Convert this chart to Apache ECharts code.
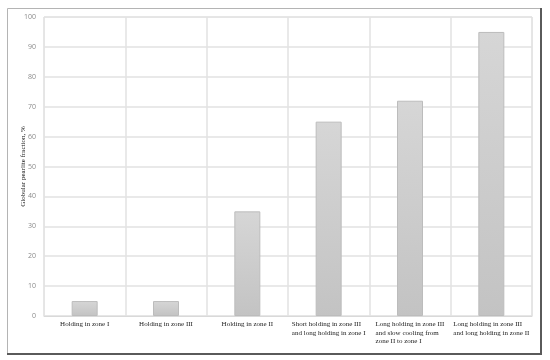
<!DOCTYPE html>
<html>
<head>
<meta charset="utf-8">
<script src="https://cdn.jsdelivr.net/npm/echarts@6/dist/echarts.min.js"></script>
<style>html,body{margin:0;padding:0;background:#fff}#c{width:550px;height:360px}</style>
</head>
<body>
<div id="c"></div>
<script>
var categories = [
  ['Holding in zone I'],
  ['Holding in zone III'],
  ['Holding in zone II'],
  ['Short holding in zone III', 'and long holding in zone I'],
  ['Long holding in zone III', 'and slow cooling from', 'zone II to zone I'],
  ['Long holding in zone III', 'and long holding in zone II']
];
var values = [5, 5, 35, 65, 72, 95];
var yTicks = [0, 10, 20, 30, 40, 50, 60, 70, 80, 90, 100];
var yTitle = 'Globular pearlite fraction, %';

var chart = echarts.init(document.getElementById('c'), null, {renderer: 'canvas'});
var serif = '"Liberation Serif", "Times New Roman", serif';
chart.setOption({
  animation: false,
  backgroundColor: '#ffffff',
  graphic: [
    {type: 'rect', shape: {x: 7.5, y: 8.5, width: 533, height: 345}, style: {fill: 'none', stroke: '#b4b4b4', lineWidth: 1}, z: 100},
    {type: 'line', shape: {x1: 541, y1: 8, x2: 541, y2: 354}, style: {stroke: '#5a5a5a', lineWidth: 2}, z: 101},
    {type: 'line', shape: {x1: 7, y1: 354, x2: 542, y2: 354}, style: {stroke: '#5a5a5a', lineWidth: 2}, z: 101}
  ],
  grid: {left: 44, top: 17, right: 18, bottom: 44, show: true, borderColor: '#e2e2e2', borderWidth: 1},
  xAxis: {
    type: 'category',
    data: categories.map(function (c) { return c.join('\n'); }),
    boundaryGap: true,
    axisLine: {show: true, lineStyle: {color: '#d9d9d9', width: 1}},
    axisTick: {show: false},
    splitLine: {show: true, lineStyle: {color: '#e2e2e2', width: 1.5}},
    axisLabel: {
      interval: 0,
      margin: 4,
      color: '#222',
      fontFamily: serif,
      fontSize: 7,
      lineHeight: 8.5,
      verticalAlign: 'top',
      hideOverlap: false,
      formatter: function (v) {
        return v.split('\n').map(function (l) { return '{a|' + l + '}'; }).join('\n');
      },
      rich: {a: {align: 'left', fontFamily: serif, fontSize: 7, lineHeight: 8.5, color: '#222'}}
    }
  },
  yAxis: {
    type: 'value',
    min: yTicks[0],
    max: yTicks[yTicks.length - 1],
    interval: 10,
    name: yTitle,
    nameLocation: 'middle',
    nameGap: 17,
    nameMoveOverlap: false,
    nameRotate: 90,
    nameTextStyle: {fontFamily: serif, fontSize: 7, color: '#111'},
    axisLine: {show: false},
    axisTick: {show: false},
    axisLabel: {color: '#8a8a8a', fontSize: 7, margin: 8, fontFamily: '"Open Sans", sans-serif'},
    splitLine: {show: true, lineStyle: {color: '#e2e2e2', width: 1.5}}
  },
  series: [{
    type: 'bar',
    data: values,
    barWidth: 26,
    itemStyle: {
      color: new echarts.graphic.LinearGradient(0, 0, 0, 1, [
        {offset: 0, color: '#d6d6d6'},
        {offset: 1, color: '#c3c3c3'}
      ]),
      borderColor: '#bcbcbc',
      borderWidth: 1
    }
  }]
});
</script>
</body>
</html>
